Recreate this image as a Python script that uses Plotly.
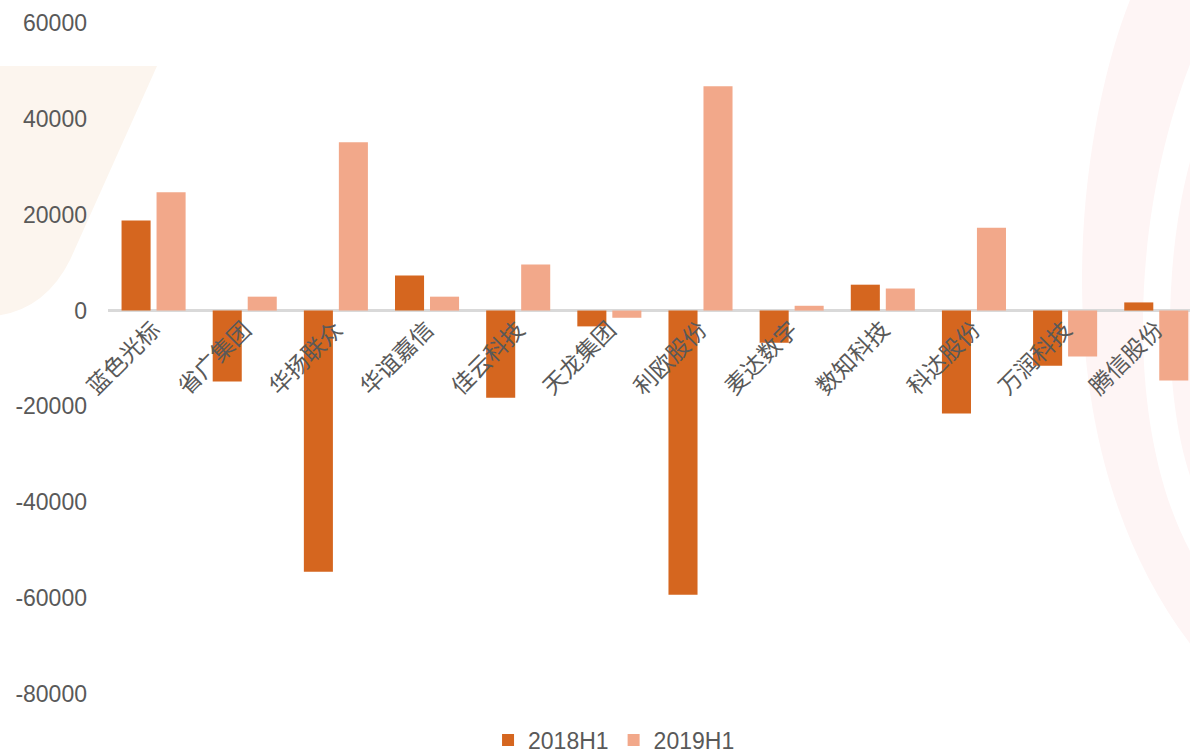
import plotly.graph_objects as go

categories = ["蓝色光标", "省广集团", "华扬联众", "华谊嘉信", "佳云科技", "天龙集团",
              "利欧股份", "麦达数字", "数知科技", "科达股份", "万润科技", "腾信股份"]
h1_2018 = [18800, -14800, -54500, 7300, -18200, -3300, -59300, -6700, 5400, -21500, -11500, 1700]
h1_2019 = [24700, 2900, 35100, 2900, 9600, -1500, 46800, 1000, 4600, 17300, -9600, -14600]
y_ticks = [60000, 40000, 20000, 0, -20000, -40000, -60000, -80000]

W, H = 1190, 755
ML, MR, MT, MB = 108, 0, 23, 61
PW, PH = W - ML - MR, H - MT - MB


def px(x):
    return (x - ML) / PW


def py(y):
    return (H - MB - y) / PH


def path(points_cmds):
    out = []
    for cmd, pts in points_cmds:
        coords = " ".join(f"{px(a):.4f},{py(b):.4f}" for a, b in pts)
        out.append(f"{cmd} {coords}")
    return " ".join(out) + " Z"


fig = go.Figure()
fig.add_trace(go.Bar(name="2018H1", x=categories, y=h1_2018,
                     marker=dict(color="#D5661F", line=dict(width=0))))
fig.add_trace(go.Bar(name="2019H1", x=categories, y=h1_2019,
                     marker=dict(color="#F2A88A", line=dict(width=0))))

shapes = [
    # top-left peach decoration
    dict(type="path", xref="paper", yref="paper", layer="below", line=dict(width=0),
         fillcolor="#FCF5EE",
         path=path([("M", [(-5, 66)]), ("L", [(157, 66)]), ("L", [(70, 260)]),
                    ("Q", [(45, 310), (-5, 316)])])),
    # right pink ring bands
    dict(type="path", xref="paper", yref="paper", layer="below", line=dict(width=0),
         fillcolor="#FEF5F5",
         path=path([("M", [(1132, -5)]), ("C", [(1080, 120), (1030, 440), (1195, 650)]),
                    ("L", [(1195, 560)]), ("C", [(1120, 430), (1130, 200), (1200, 40)]),
                    ("L", [(1200, -5)])])),
    dict(type="path", xref="paper", yref="paper", layer="below", line=dict(width=0),
         fillcolor="#FEF5F5",
         path=path([("M", [(1200, 130)]), ("C", [(1160, 240), (1160, 420), (1200, 500)])])),
]

fig.update_layout(
    width=W, height=H,
    margin=dict(l=ML, r=MR, t=MT, b=MB, pad=0, autoexpand=False),
    paper_bgcolor="white", plot_bgcolor="rgba(0,0,0,0)",
    barmode="group", bargap=0.232, bargroupgap=0.17,
    font=dict(family="Liberation Sans, Arial, Noto Sans CJK SC", color="#595959", size=23),
    shapes=shapes,
    showlegend=True,
    legend=dict(orientation="h", xref="container", yref="container",
                x=0.516, xanchor="center", y=15 / 755, yanchor="middle",
                font=dict(size=23, color="#595959"), itemwidth=30,
                bgcolor="rgba(0,0,0,0)", traceorder="normal"),
    xaxis=dict(type="category", range=[-0.5, 11.37], anchor="free", position=80000 / 140000,
               tickangle=-45, showline=False, showgrid=False, ticks="",
               tickfont=dict(family="Noto Sans CJK SC", size=23, color="#595959"),
               fixedrange=True, automargin=False),
    yaxis=dict(range=[-80000, 60000], tickvals=y_ticks, ticktext=[str(v) for v in y_ticks],
               showgrid=False, zeroline=True, zerolinecolor="#D9D9D9", zerolinewidth=2.5,
               showline=False, ticks="", ticklabelstandoff=20, automargin=False,
               tickfont=dict(family="Liberation Sans, Arial", size=23, color="#595959")),
)

fig.write_html("out.html")
